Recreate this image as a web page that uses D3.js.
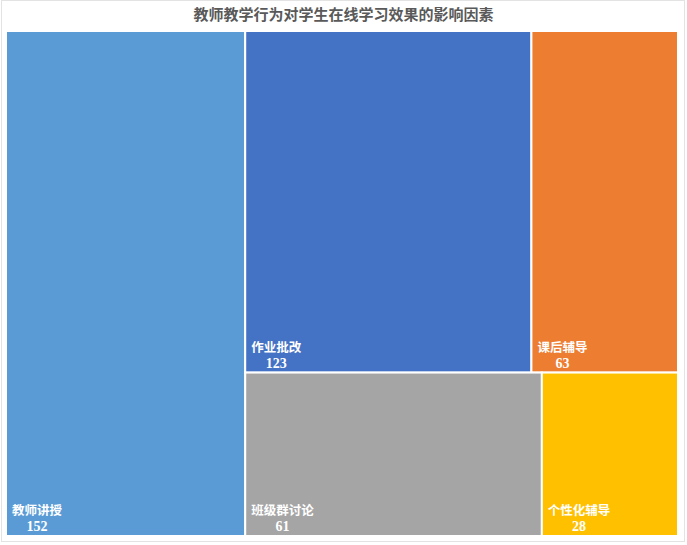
<!DOCTYPE html>
<meta charset="utf-8">
<style>
    body {
        margin: 0;
        background: #fff;
        font-family: "Liberation Serif", "Noto Sans CJK SC", serif;
    }

    .cell {
        stroke: #fff;
        stroke-width: 2px;
    }

    .label {
        fill: #fff;
        font-weight: bold;
    }
</style>

<body>
    <script src="https://d3js.org/d3.v7.min.js"></script>
    <script>
        // Factors and their counts
        var names = ["教师讲授", "作业批改", "课后辅导", "班级群讨论", "个性化辅导"];
        var counts = [152, 123, 63, 61, 28];
        var colors = ["#5b9bd5", "#4472c4", "#ed7d31", "#a5a5a5", "#ffc000"];
        var title = "教师教学行为对学生在线学习效果的影响因素";

        var width = 687,
            height = 545;
        var box = { left: 6, top: 31, right: 678, bottom: 536 };

        var svg = d3.select("body").append("svg")
            .attr("width", width)
            .attr("height", height);

        // light chart border
        svg.append("rect")
            .attr("x", 1.5).attr("y", 0.5)
            .attr("width", width - 4).attr("height", height - 4)
            .attr("fill", "none")
            .attr("stroke", "#e3e3e3");

        svg.append("text")
            .attr("x", width / 2)
            .attr("y", 20)
            .attr("text-anchor", "middle")
            .attr("fill", "#595959")
            .style("font-family", "'Noto Sans CJK SC', sans-serif")
            .style("font-size", "15px")
            .style("font-weight", "bold")
            .text(title);

        // Excel-like tiling: biggest item takes a column, rest go in rows of two
        function excelTile(parent, x0, y0, x1, y1) {
            var kids = parent.children;
            var xm = x0 + (x1 - x0) * kids[0].value / parent.value;
            kids[0].x0 = x0; kids[0].x1 = xm; kids[0].y0 = y0; kids[0].y1 = y1;
            var rest = kids.slice(1);
            var restTotal = d3.sum(rest, function (d) { return d.value; });
            var y = y0;
            d3.range(0, rest.length, 2).forEach(function (i) {
                var row = rest.slice(i, i + 2);
                var rv = d3.sum(row, function (d) { return d.value; });
                var h = (y1 - y0) * rv / restTotal;
                var x = xm;
                row.forEach(function (d) {
                    var w = (x1 - xm) * d.value / rv;
                    d.x0 = x; d.x1 = x + w; d.y0 = y; d.y1 = y + h;
                    x += w;
                });
                y += h;
            });
        }

        var root = d3.hierarchy({
            children: names.map(function (n, i) {
                return { name: n, value: counts[i], color: colors[i] };
            })
        }).sum(function (d) { return d.value || 0; });

        d3.treemap()
            .tile(excelTile)
            .size([box.right - box.left, box.bottom - box.top])(root);

        var cell = svg.append("g")
            .attr("transform", "translate(" + box.left + "," + box.top + ")")
            .selectAll("g")
            .data(root.leaves())
            .enter().append("g");

        cell.append("rect")
            .attr("class", "cell")
            .attr("x", function (d) { return d.x0; })
            .attr("y", function (d) { return d.y0; })
            .attr("width", function (d) { return d.x1 - d.x0; })
            .attr("height", function (d) { return d.y1 - d.y0; })
            .attr("fill", function (d) { return d.data.color; });

        cell.each(function (d) {
            var g = d3.select(this);
            var nameText = g.append("text")
                .attr("class", "label")
                .attr("x", d.x0 + 6)
                .attr("y", d.y1 - 21)
                .style("font-family", "'Noto Sans CJK SC', sans-serif")
                .style("font-size", "12.5px")
                .text(d.data.name);
            var w = nameText.node().getComputedTextLength();
            g.append("text")
                .attr("class", "label")
                .attr("x", d.x0 + 6 + w / 2)
                .attr("y", d.y1 - 5)
                .attr("text-anchor", "middle")
                .style("font-size", "14px")
                .text(d.data.value);
        });
    </script>
</body>
